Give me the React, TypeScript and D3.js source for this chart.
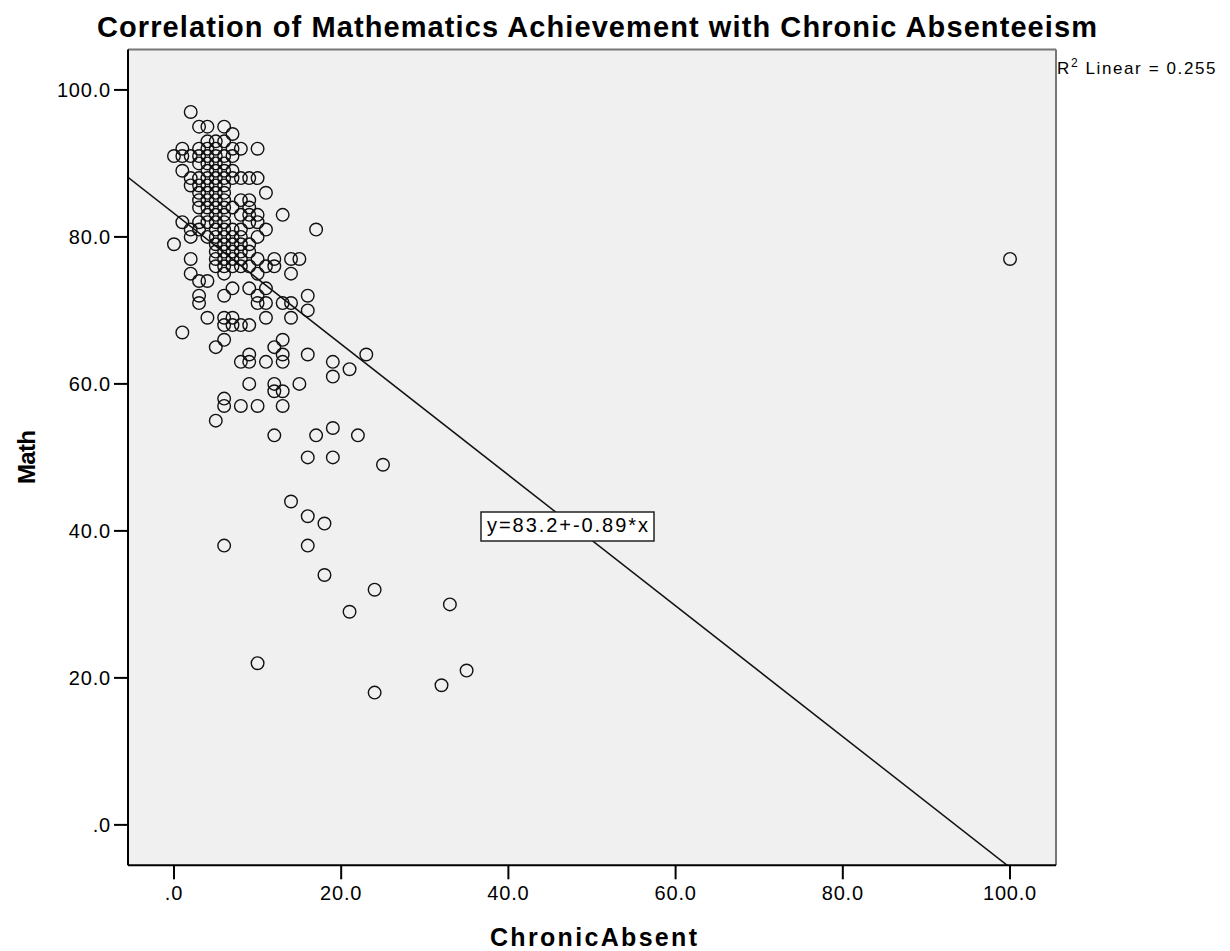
import React from "react";
import * as d3 from "d3";

const W = 1230;
const H = 951;

const titleText = "Correlation of Mathematics Achievement with Chronic Absenteeism";
const xLabel = "ChronicAbsent";
const yLabel = "Math";
const xTicks = [0, 20, 40, 60, 80, 100];
const yTicks = [0, 20, 40, 60, 80, 100];
const intercept = 83.2;
const slope = -0.89;
const r2Text = "0.255";

// [ChronicAbsent, Math]
const upperPoints: [number, number][] = [
  [2, 97], [3, 95], [4, 95], [6, 95], [7, 94], [4, 93], [5, 93], [6, 93],
  [3, 92], [4, 92], [5, 92], [1, 92], [7, 92], [8, 92], [10, 92],
  [0, 91], [1, 91], [2, 91], [3, 91], [4, 91], [5, 91], [6, 91], [7, 91],
  [3, 90], [4, 90], [5, 90], [6, 90], [1, 89], [4, 89], [5, 89], [6, 89], [7, 89],
  [2, 88], [3, 88], [4, 88], [5, 88], [6, 88], [7, 88], [8, 88], [9, 88], [10, 88],
  [2, 87], [3, 87], [4, 87], [5, 87], [6, 87], [3, 86], [4, 86], [5, 86], [6, 86], [11, 86],
  [3, 85], [4, 85], [5, 85], [6, 85], [8, 85], [9, 85],
  [3, 84], [4, 84], [5, 84], [6, 84], [7, 84], [9, 84],
];

const middlePoints: [number, number][] = [
  [13, 83], [4, 83], [5, 83], [6, 83], [8, 83], [9, 83], [10, 83],
  [1, 82], [3, 82], [4, 82], [5, 82], [6, 82], [9, 82], [10, 82],
  [2, 81], [3, 81], [5, 81], [6, 81], [7, 81], [8, 81], [11, 81], [17, 81],
  [2, 80], [4, 80], [5, 80], [6, 80], [7, 80], [8, 80], [10, 80],
  [0, 79], [5, 79], [6, 79], [7, 79], [8, 79], [9, 79],
  [5, 78], [6, 78], [7, 78], [8, 78], [9, 78],
  [2, 77], [5, 77], [6, 77], [7, 77], [8, 77], [10, 77], [12, 77], [14, 77], [15, 77],
  [5, 76], [6, 76], [7, 76], [8, 76], [9, 76], [11, 76], [12, 76],
  [2, 75], [6, 75], [10, 75], [14, 75],
];

const lowerPoints: [number, number][] = [
  [3, 74], [4, 74], [7, 73], [9, 73], [11, 73], [3, 72], [6, 72], [10, 72], [16, 72],
  [3, 71], [10, 71], [11, 71], [13, 71], [14, 71], [16, 70],
  [4, 69], [6, 69], [7, 69], [11, 69], [14, 69], [6, 68], [7, 68], [8, 68], [9, 68],
  [1, 67], [6, 66], [13, 66], [5, 65], [12, 65], [9, 64], [13, 64], [16, 64], [23, 64],
  [8, 63], [9, 63], [11, 63], [13, 63], [19, 63], [21, 62], [19, 61],
  [9, 60], [12, 60], [15, 60], [12, 59], [13, 59], [6, 58], [6, 57], [8, 57], [10, 57], [13, 57],
  [5, 55], [19, 54], [12, 53], [17, 53], [22, 53], [16, 50], [19, 50], [25, 49],
  [14, 44], [16, 42], [18, 41], [6, 38], [16, 38], [18, 34], [24, 32], [33, 30], [21, 29],
  [10, 22], [35, 21], [32, 19], [24, 18], [100, 77],
];

const allPoints = [...upperPoints, ...middlePoints, ...lowerPoints];

const FONT = "'Liberation Sans', Arial, sans-serif";

export default function App() {
  const left = 128, right = 1056, top = 49.5, bottom = 865.3;
  const x = d3.scaleLinear().domain([-5.5, 105.5]).range([left, right]);
  const y = d3.scaleLinear().domain([-5.5, 105.5]).range([bottom, top]);
  const fmt = (v: number) => (v === 0 ? ".0" : d3.format(".1f")(v));
  const lineData: [number, number][] = [-5.5, 105.5].map((v) => [v, intercept + slope * v]);
  const line = d3.line<[number, number]>().x((d) => x(d[0])).y((d) => y(d[1]));

  return (
    <svg width={W} height={H} style={{ position: "absolute", left: 0, top: 0, background: "#fff" }}>
      <defs>
        <clipPath id="plotClip">
          <rect x={left} y={top} width={right - left} height={bottom - top} />
        </clipPath>
      </defs>
      <text x={97} y={37} fontFamily={FONT} fontWeight="bold" fontSize={29} fill="#000"
        textLength={1000} lengthAdjust="spacing">
        {titleText}
      </text>
      <rect x={left} y={top} width={right - left} height={bottom - top} fill="#F0F0F0" />
      <line x1={left} y1={top} x2={right} y2={top} stroke="#777" strokeWidth={2} />
      <line x1={right} y1={top} x2={right} y2={bottom} stroke="#777" strokeWidth={2} />
      <g clipPath="url(#plotClip)">
        <path d={line(lineData) || ""} stroke="#111" strokeWidth={1.5} fill="none" />
        {allPoints.map((p, i) => (
          <circle key={i} cx={x(p[0])} cy={y(p[1])} r={6.3} fill="none" stroke="#111" strokeWidth={1.4} />
        ))}
      </g>
      <line x1={left} y1={top} x2={left} y2={bottom} stroke="#000" strokeWidth={2} />
      <line x1={left} y1={bottom} x2={right} y2={bottom} stroke="#000" strokeWidth={2} />
      {yTicks.map((t) => (
        <g key={"y" + t}>
          <line x1={left - 14} x2={left} y1={y(t)} y2={y(t)} stroke="#000" strokeWidth={2} />
          <text x={left - 17} y={y(t)} dy="0.36em" textAnchor="end" fontFamily={FONT} fontSize={20}
            letterSpacing={0.8} fill="#000">
            {fmt(t)}
          </text>
        </g>
      ))}
      {xTicks.map((t) => (
        <g key={"x" + t}>
          <line x1={x(t)} x2={x(t)} y1={bottom} y2={bottom + 14} stroke="#000" strokeWidth={2} />
          <text x={x(t)} y={900} textAnchor="middle" fontFamily={FONT} fontSize={20}
            letterSpacing={0.8} fill="#000">
            {fmt(t)}
          </text>
        </g>
      ))}
      <text x={490} y={946} fontFamily={FONT} fontWeight="bold" fontSize={25} fill="#000"
        textLength={207} lengthAdjust="spacing">
        {xLabel}
      </text>
      <text transform={`translate(35,484) rotate(-90)`} fontFamily={FONT} fontWeight="bold" fontSize={24}
        fill="#000" textLength={54} lengthAdjust="spacing">
        {yLabel}
      </text>
      <rect x={481} y={512} width={173} height={29} fill="#fff" stroke="#222" strokeWidth={1.5} />
      <text x={487} y={532} fontFamily={FONT} fontSize={20} fill="#000" textLength={161} lengthAdjust="spacing">
        {`y=${intercept}+${slope}*x`}
      </text>
      <text x={1057} y={74} fontFamily={FONT} fontSize={17} letterSpacing={1.6} fill="#000">
        R<tspan dy={-7} fontSize={12}>2</tspan>
        <tspan dy={7}>{` Linear = ${r2Text}`}</tspan>
      </text>
    </svg>
  );
}
